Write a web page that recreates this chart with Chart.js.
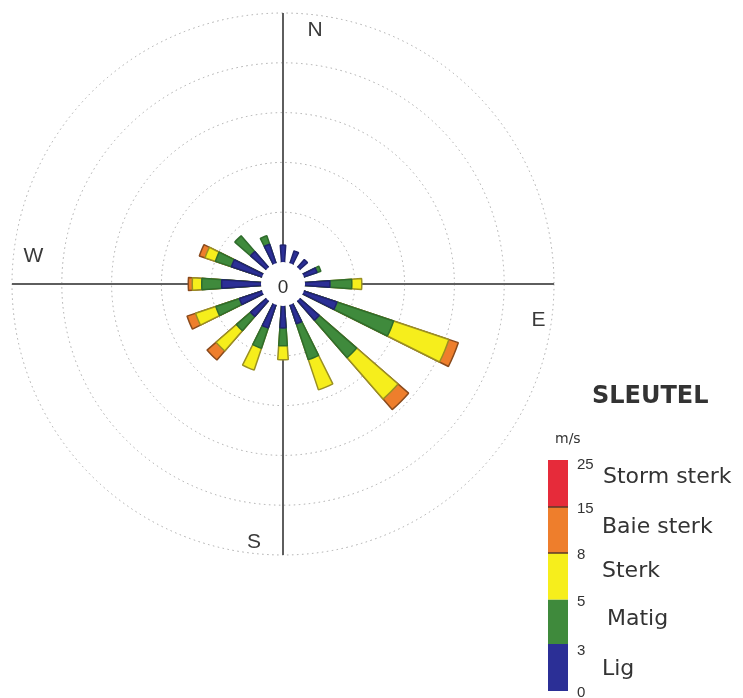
<!DOCTYPE html>
<html>
<head>
<meta charset="utf-8">
<script src="https://cdn.jsdelivr.net/npm/chart.js@4.4.1/dist/chart.umd.min.js"></script>
<style>
  html, body { margin: 0; padding: 0; background: #ffffff; }
  #wrap { position: relative; width: 743px; height: 698px; }
  canvas { display: block; }
</style>
</head>
<body>
<div id="wrap"><canvas id="rose" width="743" height="698"></canvas></div>
<script>
// 16 compass points, clockwise from north
const directions = ['N', 'NNE', 'NE', 'ENE', 'E', 'ESE', 'SE', 'SSE',
                    'S', 'SSW', 'SW', 'WSW', 'W', 'WNW', 'NW', 'NNW'];

// Frequency (%) of each wind-speed class per direction
const lig        = [1.7, 1.3, 1.05, 1.4, 2.5, 3.5, 2.6, 2.0, 2.2, 2.45, 2.1, 2.4, 3.95, 3.25, 2.1, 2.0];
const matig      = [0, 0, 0, 0.4, 2.2, 6.0, 5.0, 3.8, 1.8, 2.15, 1.9, 2.5, 2.0, 1.7, 2.1, 0.9];
const sterk      = [0, 0, 0, 0, 1.0, 5.85, 5.5, 3.2, 1.4, 2.3, 2.7, 2.15, 0.95, 1.1, 0, 0];
const baieSterk  = [0, 0, 0, 0, 0, 1.0, 1.4, 0, 0, 0, 1.2, 0.9, 0.4, 0.6, 0, 0];
const stormSterk = [0, 0, 0, 0, 0, 0, 0, 0, 0, 0, 0, 0, 0, 0, 0, 0];

// Speed classes (m/s) for the key
const classNames  = ['Lig', 'Matig', 'Sterk', 'Baie sterk', 'Storm sterk'];
const classLimits = [0, 3, 5, 8, 15, 25];
const classColors = ['#2b2f96', '#3f8a3c', '#f6ee1c', '#ee7e2c', '#e62b3a'];
const classEdges  = ['#20236e', '#2f6c2c', '#9a9022', '#8a4a1c', '#8a1a22'];

// Radial rings (%) and compass labels
const ringValues    = [0, 5, 10, 15, 20, 25];
const cardinalNames = ['N', 'E', 'S', 'W'];

const classSeries = [lig, matig, sterk, baieSterk, stormSterk];

const BAR_ANGLE = 8;                       // wedge width in degrees
const GAP_ANGLE = 360 / directions.length - BAR_ANGLE;
const ANGLE_STEP = 2;                      // spacing of the scale's angular index
const spokeCount = 360 / ANGLE_STEP;
const spokeLabels = new Array(spokeCount).fill('');
// spokes that fall exactly on N, E, S, W
const axisSpokes = [0, 90, 180, 270].map(a => (a + BAR_ANGLE / 2) / ANGLE_STEP);

// Each dataset holds the cumulative radius of a class; wedges alternate with empty gaps
const datasets = classSeries.map((series, k) => {
  const data = [];
  directions.forEach((d, i) => {
    let cum = 0;
    for (let j = 0; j <= k; j++) cum += classSeries[j][i];
    data.push(series[i] > 0 ? cum : 0);
    data.push(0);
  });
  return {
    label: classNames[k],
    data: data,
    angle: (c) => (c.dataIndex % 2 === 0 ? BAR_ANGLE : GAP_ANGLE),
    backgroundColor: (c) => (c.dataIndex % 2 === 0 ? classColors[k] : 'rgba(0,0,0,0)'),
    borderColor: (c) => (c.dataIndex % 2 === 0 ? classEdges[k] : 'rgba(0,0,0,0)'),
    borderWidth: 1.5,
    borderAlign: 'center'
  };
});

const roseDecor = {
  id: 'roseDecor',
  afterDatasetsDraw(chart) {
    const r = chart.scales.r;
    const ctx = chart.ctx;
    const hole = r.getDistanceFromCenterForValue(0);
    ctx.save();
    ctx.fillStyle = '#ffffff';
    ctx.beginPath();
    ctx.arc(r.xCenter, r.yCenter, hole, 0, Math.PI * 2);
    ctx.fill();
    ctx.fillStyle = '#2e2e2e';
    ctx.font = '19px "Liberation Sans", Arial, sans-serif';
    ctx.textAlign = 'center';
    ctx.textBaseline = 'alphabetic';
    ctx.fillText('0', r.xCenter, r.yCenter + 9);
    ctx.restore();
  },
  afterDraw(chart) {
    const r = chart.scales.r;
    const ctx = chart.ctx;
    const cx = r.xCenter, cy = r.yCenter;
    ctx.save();
    // compass letters, set just beside the axis ends
    ctx.fillStyle = '#3a3a3a';
    ctx.font = '21px "Liberation Sans", Arial, sans-serif';
    ctx.textAlign = 'center';
    ctx.textBaseline = 'alphabetic';
    const offsets = [[32, -248], [255.5, 42], [-29, 264], [-249.5, -22]];
    cardinalNames.forEach((name, i) => {
      ctx.fillText(name, cx + offsets[i][0], cy + offsets[i][1]);
    });

    // key
    ctx.textAlign = 'left';
    ctx.fillStyle = '#333333';
    ctx.font = 'bold 24px "DejaVu Sans", sans-serif';
    ctx.fillText('SLEUTEL', 592, 403);
    ctx.font = '14px "DejaVu Sans", sans-serif';
    ctx.fillText('m/s', 555, 443);

    const barX = 548, barW = 20;
    const bounds = [691, 644, 599.5, 553, 507, 460];
    for (let k = 0; k < classNames.length; k++) {
      ctx.fillStyle = classColors[k];
      ctx.fillRect(barX, bounds[k + 1], barW, bounds[k] - bounds[k + 1]);
    }
    ctx.strokeStyle = '#5a3a2a';
    ctx.lineWidth = 1.5;
    [507, 553].forEach(y => {
      ctx.beginPath(); ctx.moveTo(barX, y); ctx.lineTo(barX + barW, y); ctx.stroke();
    });

    ctx.fillStyle = '#333333';
    ctx.font = '15px "Liberation Sans", Arial, sans-serif';
    const limitBase = [697, 655, 606, 559, 513, 469];
    classLimits.forEach((v, k) => ctx.fillText(String(v), 577, limitBase[k]));

    ctx.font = '22px "DejaVu Sans", sans-serif';
    const nameX = [602, 607, 602, 602, 603];
    const nameBase = [675, 625, 577, 533, 483];
    classNames.forEach((n, k) => ctx.fillText(n, nameX[k], nameBase[k]));
    ctx.restore();
  }
};

new Chart(document.getElementById('rose'), {
  type: 'polarArea',
  data: { labels: spokeLabels, datasets: datasets },
  options: {
    responsive: false,
    animation: false,
    layout: { padding: { left: 12, top: 12, right: 189, bottom: 142 } },
    plugins: { legend: { display: false }, tooltip: { enabled: false } },
    scales: {
      r: {
        min: -2.21,
        max: 25,
        startAngle: -BAR_ANGLE / 2,
        ticks: { display: false, stepSize: 5 },
        afterBuildTicks: (s) => { s.ticks = ringValues.map(v => ({ value: v })); },
        grid: {
          circular: true,
          lineWidth: 1,
          color: (c) => (c.tick && c.tick.value > 0 ? '#a8a8a8' : 'rgba(0,0,0,0)')
        },
        border: { dash: [1.5, 3.5] },
        angleLines: {
          display: true,
          color: '#5e5e5e',
          lineWidth: (c) => (axisSpokes.includes(c.index) ? 2 : 0)
        },
        pointLabels: { display: false }
      }
    }
  },
  plugins: [roseDecor]
});
</script>
</body>
</html>
